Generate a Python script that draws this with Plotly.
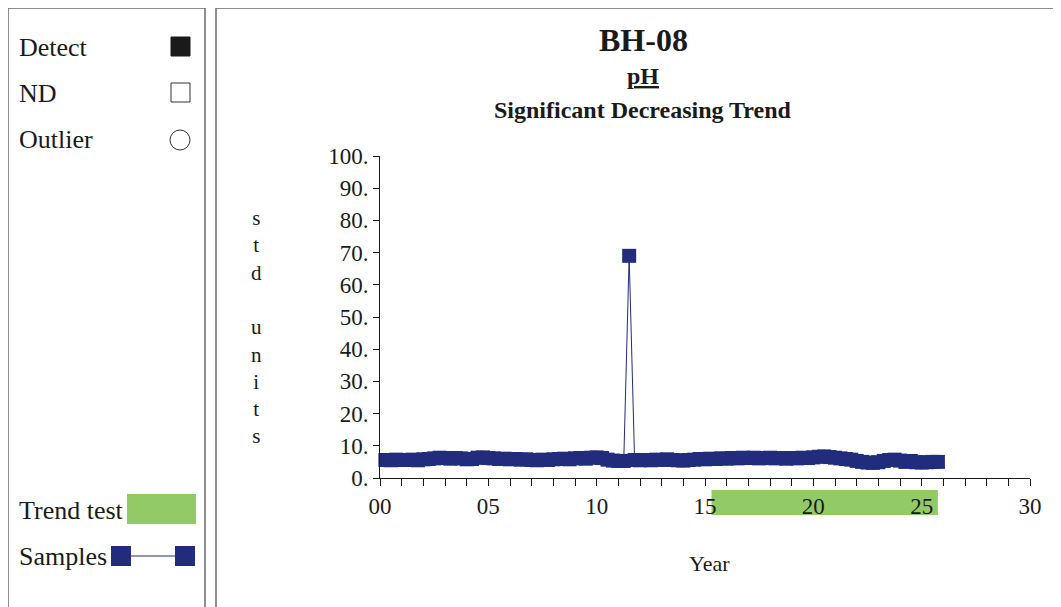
import plotly.graph_objects as go

# sample dates (decimal years since 2000) and pH readings
sample_year = [
    0.25, 0.5, 0.75, 1.0, 1.25, 1.5, 1.75, 2.0, 2.25, 2.5, 2.75, 3.0,
    3.25, 3.5, 3.75, 4.0, 4.25, 4.5, 4.75, 5.0, 5.25, 5.5, 5.75, 6.0,
    6.25, 6.5, 6.75, 7.0, 7.25, 7.5, 7.75, 8.0, 8.25, 8.5, 8.75, 9.0,
    9.25, 9.5, 9.75, 10.0, 10.25, 10.5, 10.75, 11.0, 11.25, 11.5, 11.75, 12.0,
    12.25, 12.5, 12.75, 13.0, 13.25, 13.5, 13.75, 14.0, 14.25, 14.5, 14.75, 15.0,
    15.25, 15.5, 15.75, 16.0, 16.25, 16.5, 16.75, 17.0, 17.25, 17.5, 17.75, 18.0,
    18.25, 18.5, 18.75, 19.0, 19.25, 19.5, 19.75, 20.0, 20.25, 20.5, 20.75, 21.0,
    21.25, 21.5, 21.75, 22.0, 22.25, 22.5, 22.75, 23.0, 23.25, 23.5, 23.75, 24.0,
    24.25, 24.5, 24.75, 25.0, 25.25, 25.5, 25.75,
]
ph_value = [
    5.6, 5.5, 5.7, 5.6, 5.6, 5.7, 5.5, 5.8, 5.9, 6.1, 6.3, 6.2,
    6.0, 6.2, 6.1, 5.8, 5.9, 6.3, 6.4, 6.2, 6.1, 5.9, 6.0, 5.8,
    5.9, 5.7, 5.8, 5.6, 5.5, 5.7, 5.6, 5.8, 5.9, 6.0, 5.8, 6.1,
    6.2, 6.0, 6.3, 6.4, 6.2, 5.7, 5.4, 5.3, 5.3, 69.0, 5.6, 5.5,
    5.6, 5.5, 5.7, 5.6, 5.8, 5.6, 5.5, 5.4, 5.6, 5.7, 5.9, 5.8,
    6.0, 5.9, 6.1, 6.0, 6.2, 6.1, 6.3, 6.2, 6.3, 6.1, 6.2, 6.3,
    6.1, 6.2, 6.0, 6.2, 6.1, 6.3, 6.2, 6.4, 6.6, 6.7, 6.5, 6.3,
    6.1, 5.9, 5.7, 5.3, 5.0, 4.8, 4.7, 4.9, 5.3, 5.6, 5.7, 5.4,
    5.0, 5.3, 4.9, 4.8, 4.9, 5.0, 5.0,
]
trend_period = [15.3, 25.75]

x_tickvals = [0, 5, 10, 15, 20, 25, 30]
x_ticktext = ["00", "05", "10", "15", "20", "25", "30"]
y_tickvals = [0, 10, 20, 30, 40, 50, 60, 70, 80, 90, 100]
y_ticktext = ["0.", "10.", "20.", "30.", "40.", "50.", "60.", "70.", "80.", "90.", "100."]

W, H = 1061, 607
# page body has an 8px margin, so screen positions are figure positions + 8
OFF = 8
PLOT_X0, PLOT_X1, PLOT_Y0, PLOT_Y1 = 380, 1030, 156, 478  # screen pixels
L, R = PLOT_X0 - OFF, W - (PLOT_X1 - OFF)
T, B = PLOT_Y0 - OFF, H - (PLOT_Y1 - OFF)
NAVY = "#222c7c"
GREEN = "#92cb66"
FRAME = "#6a6a6a"
SERIF = "Liberation Serif, Times New Roman, serif"


def px(x):
    return (x - PLOT_X0) / (PLOT_X1 - PLOT_X0)


def py(y):
    return (PLOT_Y1 - y) / (PLOT_Y1 - PLOT_Y0)


fig = go.Figure()
fig.add_trace(go.Scatter(
    x=sample_year, y=ph_value, mode="lines+markers",
    line=dict(color=NAVY, width=1),
    marker=dict(symbol="square", size=14, color=NAVY, line=dict(width=0)),
    showlegend=False, cliponaxis=False,
))

shapes = [
    # frames
    dict(type="rect", xref="paper", yref="paper", x0=px(8), x1=px(205), y0=py(640), y1=py(8),
         line=dict(color=FRAME, width=1.5)),
    dict(type="rect", xref="paper", yref="paper", x0=px(216), x1=px(1080), y0=py(640), y1=py(8),
         line=dict(color=FRAME, width=1.5)),
    # trend test period
    dict(type="rect", xref="x", yref="paper", x0=trend_period[0], x1=trend_period[1],
         y0=py(515), y1=py(490), fillcolor=GREEN, line=dict(width=0), layer="below"),
    # legend glyphs
    dict(type="rect", xref="paper", yref="paper", x0=px(171), x1=px(190), y0=py(56), y1=py(37),
         fillcolor="#1a1a1a", line=dict(color="#1a1a1a", width=1)),
    dict(type="rect", xref="paper", yref="paper", x0=px(171), x1=px(190), y0=py(102), y1=py(83),
         fillcolor="white", line=dict(color="#333333", width=1)),
    dict(type="circle", xref="paper", yref="paper", x0=px(170), x1=px(190), y0=py(150), y1=py(130),
         fillcolor="white", line=dict(color="#333333", width=1)),
    dict(type="rect", xref="paper", yref="paper", x0=px(127), x1=px(196), y0=py(524), y1=py(494),
         fillcolor=GREEN, line=dict(width=0)),
    dict(type="line", xref="paper", yref="paper", x0=px(131), x1=px(175), y0=py(556), y1=py(556),
         line=dict(color=NAVY, width=1)),
    dict(type="rect", xref="paper", yref="paper", x0=px(111), x1=px(131), y0=py(566), y1=py(546),
         fillcolor=NAVY, line=dict(width=0)),
    dict(type="rect", xref="paper", yref="paper", x0=px(175), x1=px(195), y0=py(566), y1=py(546),
         fillcolor=NAVY, line=dict(width=0)),
]


def label(text, x, y, size=26, anchor="left", bold=False):
    if bold:
        text = "<b>" + text + "</b>"
    return dict(text=text, xref="paper", yref="paper", x=px(x), y=py(y), xanchor=anchor,
                yanchor="middle", showarrow=False, font=dict(family=SERIF, size=size, color="#1a1a1a"))


annotations = [
    label("Detect", 17, 47),
    label("ND", 17, 93),
    label("Outlier", 17, 140),
    label("Trend test", 17, 510),
    label("Samples", 17, 556),
    label("BH-08", 643, 40, size=32, anchor="center", bold=True),
    label("<u>pH</u>", 643, 76, size=24, anchor="center", bold=True),
    label("Significant Decreasing Trend", 643, 110, size=24, anchor="center", bold=True),
    label("Year", 709, 563, size=22, anchor="center"),
    label("s<br>t<br>d<br> <br>u<br>n<br>i<br>t<br>s", 256, 327, size=21, anchor="center"),
]

fig.update_layout(
    width=W, height=H,
    margin=dict(l=L, r=R, t=T, b=B),
    paper_bgcolor="white", plot_bgcolor="white",
    font=dict(family=SERIF, size=23, color="#1a1a1a"),
    shapes=shapes, annotations=annotations,
    xaxis=dict(
        range=[0, 30], tickvals=x_tickvals, ticktext=x_ticktext,
        ticks="outside", ticklen=7, tickcolor="#1a1a1a", showgrid=False, zeroline=False,
        showline=True, linecolor="#1a1a1a", linewidth=1,
        minor=dict(dtick=1, ticks="outside", ticklen=7, tickcolor="#1a1a1a"),
    ),
    yaxis=dict(
        range=[0, 100], tickvals=y_tickvals, ticktext=y_ticktext,
        ticks="outside", ticklen=6, tickcolor="#1a1a1a", showgrid=False, zeroline=False,
        showline=True, linecolor="#1a1a1a", linewidth=1,
    ),
)

fig.write_html("out.html")
